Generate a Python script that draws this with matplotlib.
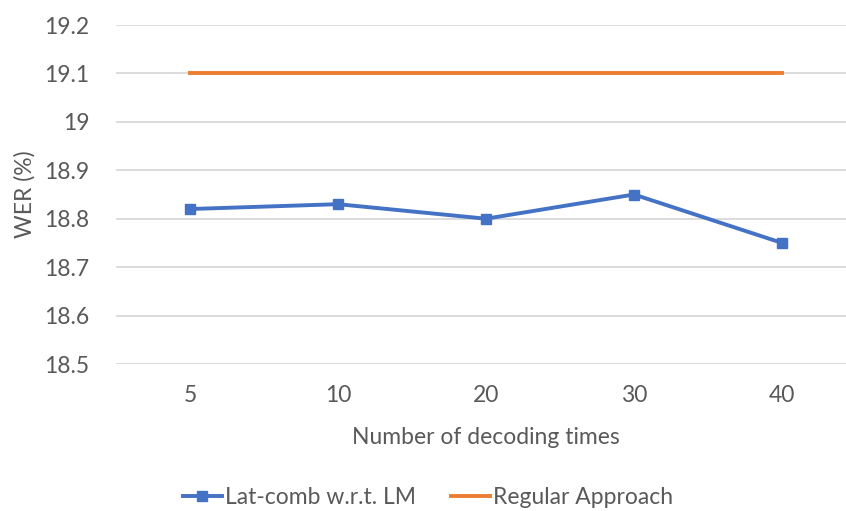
import matplotlib.pyplot as plt

# WER for each number of decoding times
categories = ["5", "10", "20", "30", "40"]
lat_comb = [18.82, 18.83, 18.80, 18.85, 18.75]
regular = [19.1, 19.1, 19.1, 19.1, 19.1]
yticks = [18.5, 18.6, 18.7, 18.8, 18.9, 19.0, 19.1, 19.2]
ytick_labels = ["18.5", "18.6", "18.7", "18.8", "18.9", "19", "19.1", "19.2"]

plt.rcParams['font.family'] = ['Lato', 'DejaVu Sans']
text_col = '#595959'
fs = 16.5

fig = plt.figure(figsize=(8.46, 5.11), dpi=100)
ax = fig.add_axes([116/846, 1-364/511, 740/846, 339/511])

x = list(range(len(categories)))
ax.plot(x, lat_comb, color='#4472C4', lw=2.8, marker='s', ms=7,
        label='Lat-comb w.r.t. LM')
ax.plot(x, regular, color='#ED7D31', lw=2.8, label='Regular Approach')

ax.set_xlim(-0.5, len(categories) - 0.5)
ax.set_ylim(18.5, 19.2)
ax.set_yticks(yticks)
ax.set_yticklabels(ytick_labels)
ax.set_xticks(x)
ax.set_xticklabels(categories)
ax.grid(axis='y', color='#D9D9D9', lw=1.3)
ax.set_axisbelow(True)
for s in ax.spines.values():
    s.set_visible(False)
ax.tick_params(length=0, labelsize=fs, colors=text_col)
ax.tick_params(axis='x', pad=15)
ax.tick_params(axis='y', pad=19)

ax.set_xlabel('Number of decoding times', fontsize=fs, color=text_col, labelpad=15)
ax.set_ylabel('WER (%)', fontsize=fs, color=text_col, labelpad=6)

fig.legend(loc='lower center', bbox_to_anchor=(0.506, -0.035), ncol=2, frameon=False,
           fontsize=fs, labelcolor=text_col, handlelength=1.7, handletextpad=0.15,
           columnspacing=1.5)

fig.savefig('out.png', dpi=100)
